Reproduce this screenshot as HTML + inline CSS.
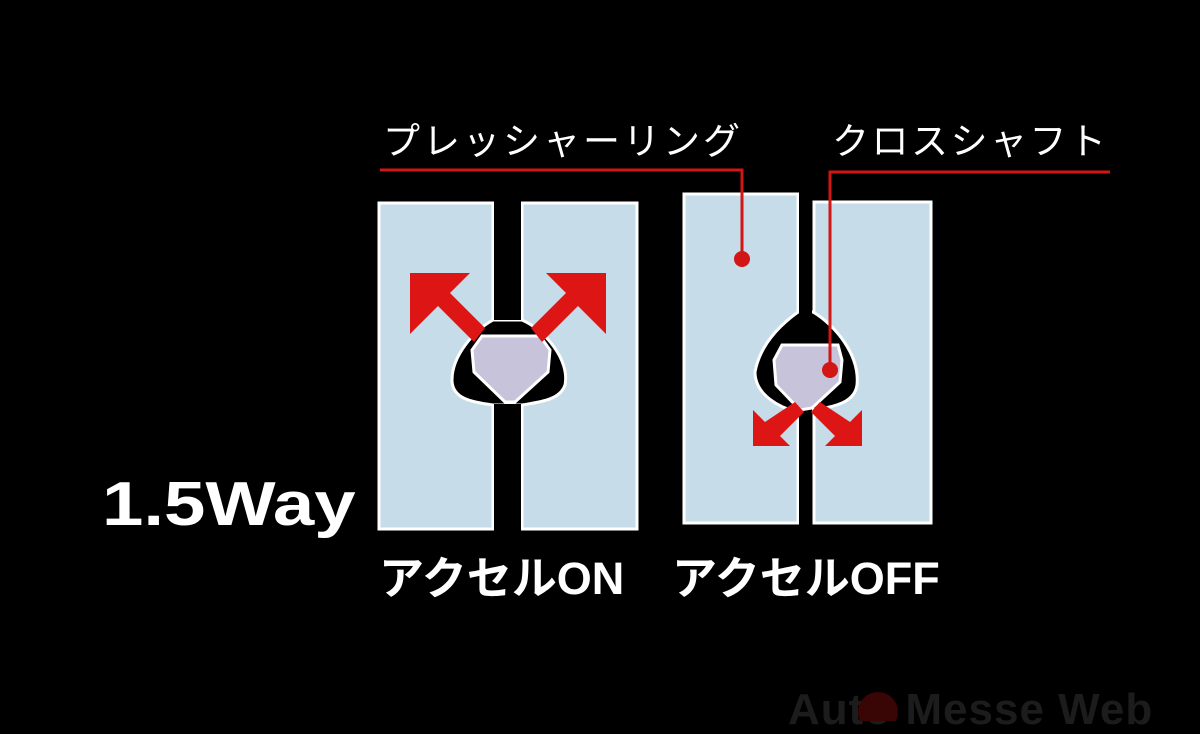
<!DOCTYPE html>
<html><head><meta charset="utf-8"><style>
html,body{margin:0;padding:0;background:#000;}
body{width:1200px;height:721px;overflow:hidden;position:relative;font-family:"Liberation Sans","Noto Sans CJK JP",sans-serif;}
.t{position:absolute;color:#fff;white-space:nowrap;line-height:1;transform-origin:left top;}
</style></head><body>
<div class="t" style="left:383px;top:123px;font-size:37px;letter-spacing:3px;">プレッシャーリング</div>
<div class="t" style="left:832px;top:123px;font-size:37px;letter-spacing:2.5px;">クロスシャフト</div>
<div class="t" style="left:102px;top:474px;font-size:62px;font-weight:bold;transform:scaleX(1.2);">1.5Way</div>
<div class="t" style="left:379px;top:556px;font-size:45px;font-weight:bold;letter-spacing:0px;">アクセルON</div>
<div class="t" style="left:672px;top:556px;font-size:45px;font-weight:bold;letter-spacing:0px;">アクセルOFF</div>
<div class="t" style="left:788px;top:688px;font-size:44px;font-weight:bold;color:#1c1c1c;letter-spacing:1px;">Auto Messe Web</div>
<svg width="1200" height="721" style="position:absolute;left:0;top:0" xmlns="http://www.w3.org/2000/svg">
<rect x="379" y="203" width="114" height="326" fill="#c6dce9" stroke="#fff" stroke-width="3"/>
<rect x="522" y="203" width="115" height="326" fill="#c6dce9" stroke="#fff" stroke-width="3"/>
<path d="M493 320 L522 320 C545 330 570 360 565 385 C560 400 540 402 522 405 L493 405 C470 402 452 398 452 380 C452 355 475 330 493 320 Z" fill="#000" stroke="#fff" stroke-width="3"/>
<rect x="494" y="200" width="27" height="120" fill="#000"/>
<rect x="494" y="404" width="27" height="128" fill="#000"/>
<path d="M482 336 L540 336 L550 350 L548 372 L515 402 L505 402 L474 372 L472 350 Z" fill="#c7c3da" stroke="#fff" stroke-width="3"/>
<polygon points="410,273 470,273 450,293 485,328 474,342 438,306 410,334" fill="#dd1515"/>
<polygon points="606,273 546,273 566,293 531,328 542,342 578,306 606,334" fill="#dd1515"/>
<rect x="684" y="194" width="114" height="329" fill="#c6dce9" stroke="#fff" stroke-width="3"/>
<rect x="814" y="202" width="117" height="321" fill="#c6dce9" stroke="#fff" stroke-width="3"/>
<path d="M798 312 L813 312 C835 325 860 355 857 385 C855 400 840 405 825 408 L798 412 C780 408 755 395 755 372 C760 345 780 325 798 312 Z" fill="#000" stroke="#fff" stroke-width="3"/>
<rect x="799" y="192" width="13" height="122" fill="#000"/>
<rect x="799" y="408" width="13" height="117" fill="#000"/>
<path d="M782 345 L838 345 L842 360 L840 382 L812 408 L800 410 L776 385 L774 360 Z" fill="#c7c3da" stroke="#fff" stroke-width="3"/>
<polygon points="795,402 804,412 780,436 790,446 753,446 753,410 765,422" fill="#dd1515"/>
<polygon points="820,402 811,412 835,436 825,446 862,446 862,410 850,422" fill="#dd1515"/>
<polyline points="380,170 742,170 742,259" fill="none" stroke="#d21515" stroke-width="3"/>
<polyline points="1110,172 830,172 830,370" fill="none" stroke="#d21515" stroke-width="3"/>
<circle cx="742" cy="259" r="8" fill="#d21515"/>
<circle cx="830" cy="370" r="8" fill="#d21515"/>
<circle cx="878" cy="712" r="20" fill="#3a0505"/>
</svg>
</body></html>
